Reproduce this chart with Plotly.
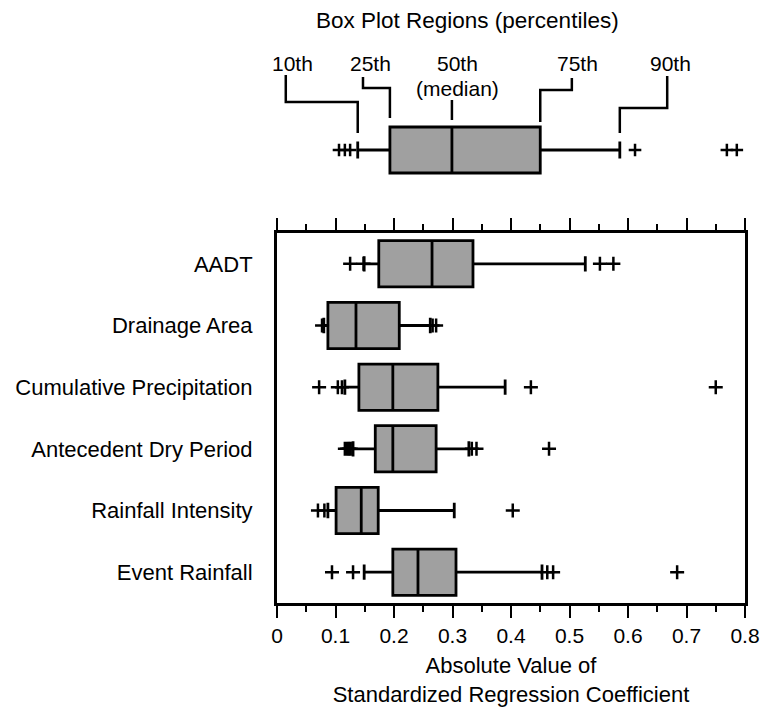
import plotly.graph_objects as go

# ---------------- data ----------------
categories = ["AADT", "Drainage Area", "Cumulative Precipitation",
              "Antecedent Dry Period", "Rainfall Intensity", "Event Rainfall"]
p10    = [0.149, 0.080, 0.116, 0.130, 0.087, 0.149]
q1     = [0.174, 0.087, 0.140, 0.168, 0.101, 0.198]
median = [0.265, 0.135, 0.198, 0.198, 0.144, 0.241]
q3     = [0.335, 0.209, 0.275, 0.272, 0.173, 0.306]
p90    = [0.527, 0.262, 0.390, 0.328, 0.303, 0.453]

outlier_cat = (["AADT"] * 4 + ["Drainage Area"] * 3 + ["Cumulative Precipitation"] * 5 +
               ["Antecedent Dry Period"] * 7 + ["Rainfall Intensity"] * 3 + ["Event Rainfall"] * 5)
outlier_val = [0.125, 0.148, 0.552, 0.575,
               0.077, 0.266, 0.272,
               0.072, 0.104, 0.111, 0.434, 0.750,
               0.116, 0.120, 0.123, 0.126, 0.333, 0.341, 0.465,
               0.070, 0.081, 0.403,
               0.094, 0.130, 0.462, 0.472, 0.684]

# schematic "Box Plot Regions" example box
legend_stats = dict(p10=0.138, q1=0.193, median=0.299, q3=0.450, p90=0.586)
legend_outliers = [0.106, 0.116, 0.125, 0.612, 0.769, 0.786]
legend_labels = ["10th", "25th", "50th", "75th", "90th"]

xticks = [0, 0.1, 0.2, 0.3, 0.4, 0.5, 0.6, 0.7, 0.8]
xticktext = ["0", "0.1", "0.2", "0.3", "0.4", "0.5", "0.6", "0.7", "0.8"]

# ---------------- styling ----------------
FONT = "Liberation Sans, Arial, sans-serif"
BOXFILL = "#a0a0a0"
W, H = 763, 722
ML, MR, MT, MB = 277, 18, 0, 119
PLOT_H = H - MT - MB
MAIN_TOP_PX = 233
LEG_H = 200      # legend panel height in px (y2 units = px from top)
LEG_Y = 150      # legend box centre (px)

fig = go.Figure()

fig.add_trace(go.Box(
    y=categories, q1=q1, median=median, q3=q3,
    lowerfence=p10, upperfence=p90, orientation="h",
    fillcolor=BOXFILL, line=dict(color="black", width=2.8),
    whiskerwidth=0.33, width=0.75, boxpoints=False,
    xaxis="x", yaxis="y", showlegend=False, hoverinfo="skip"))

fig.add_trace(go.Scatter(
    x=outlier_val, y=outlier_cat, mode="markers",
    marker=dict(symbol="cross-thin", size=10, line=dict(color="black", width=2.5)),
    xaxis="x", yaxis="y", showlegend=False, hoverinfo="skip"))

# legend example box
fig.add_trace(go.Box(
    y=[LEG_Y], q1=[legend_stats["q1"]], median=[legend_stats["median"]],
    q3=[legend_stats["q3"]], lowerfence=[legend_stats["p10"]],
    upperfence=[legend_stats["p90"]], orientation="h",
    fillcolor=BOXFILL, line=dict(color="black", width=2.8),
    whiskerwidth=0.37, width=46, boxpoints=False,
    xaxis="x2", yaxis="y2", showlegend=False, hoverinfo="skip"))

fig.add_trace(go.Scatter(
    x=legend_outliers, y=[LEG_Y] * len(legend_outliers), mode="markers",
    marker=dict(symbol="cross-thin", size=9, line=dict(color="black", width=2.5)),
    xaxis="x2", yaxis="y2", showlegend=False, hoverinfo="skip"))

# leader lines (x of the lower end = the percentile itself)
targets = [legend_stats["p10"], legend_stats["q1"], legend_stats["median"],
           legend_stats["q3"], legend_stats["p90"]]
label_x = [0.027, 0.159, 0.309, 0.513, 0.672]   # text centres
lead_x = [0.015, 0.147, None, 0.504, 0.667]      # start of each leader
elbow_y = [102, 88, None, 90, 108]
end_y = [133, 118, 120, 122, 133]
start_y = [75, 77, 100, 78, 76]

shapes = []
for i in range(5):
    if lead_x[i] is None:
        path = f"M {targets[i]},{start_y[i]} L {targets[i]},{end_y[i]}"
    else:
        path = (f"M {lead_x[i]},{start_y[i]} L {lead_x[i]},{elbow_y[i]} "
                f"L {targets[i]},{elbow_y[i]} L {targets[i]},{end_y[i]}")
    shapes.append(dict(type="path", path=path, xref="x2", yref="y2",
                       line=dict(color="black", width=2.5)))

annotations = [dict(text="Box Plot Regions (percentiles)", x=0.325, y=20,
                    xref="x2", yref="y2", showarrow=False,
                    font=dict(family=FONT, size=22.5, color="black"))]
for i, lab in enumerate(legend_labels):
    annotations.append(dict(text=lab, x=label_x[i], y=63, xref="x2", yref="y2",
                            showarrow=False, font=dict(family=FONT, size=21, color="black")))
annotations.append(dict(text="(median)", x=label_x[2], y=88, xref="x2", yref="y2",
                        showarrow=False, font=dict(family=FONT, size=21, color="black")))

fig.update_layout(
    width=W, height=H,
    margin=dict(l=ML, r=MR, t=MT, b=MB),
    plot_bgcolor="white", paper_bgcolor="white",
    font=dict(family=FONT, color="black"),
    shapes=shapes, annotations=annotations,
    xaxis=dict(range=[0, 0.8], tickvals=xticks, ticktext=xticktext,
               ticks="outside", ticklen=12, tickwidth=2, tickcolor="black",
               minor=dict(ticks="outside", ticklen=6, tickwidth=2, tickcolor="black",
                          dtick=0.05, showgrid=False),
               showline=True, linewidth=3, linecolor="black", mirror="ticks",
               showgrid=False, zeroline=False,
               tickfont=dict(family=FONT, size=21, color="black"),
               title=dict(text="Absolute Value of<br>Standardized Regression Coefficient",
                          font=dict(family=FONT, size=22, color="black"), standoff=12),
               domain=[0, 1], anchor="y"),
    yaxis=dict(categoryorder="array", categoryarray=categories, range=[5.5, -0.5],
               showline=True, linewidth=3, linecolor="black", mirror=True,
               ticks="", showgrid=False, zeroline=False, ticklabelstandoff=17,
               tickfont=dict(family=FONT, size=22, color="black"),
               domain=[0, (PLOT_H - MAIN_TOP_PX) / PLOT_H], anchor="x"),
    xaxis2=dict(matches="x", visible=False, anchor="y2", domain=[0, 1]),
    yaxis2=dict(range=[LEG_H, 0], visible=False, anchor="x2",
                domain=[1 - LEG_H / PLOT_H, 1]),
)

fig.write_html("out.html")
